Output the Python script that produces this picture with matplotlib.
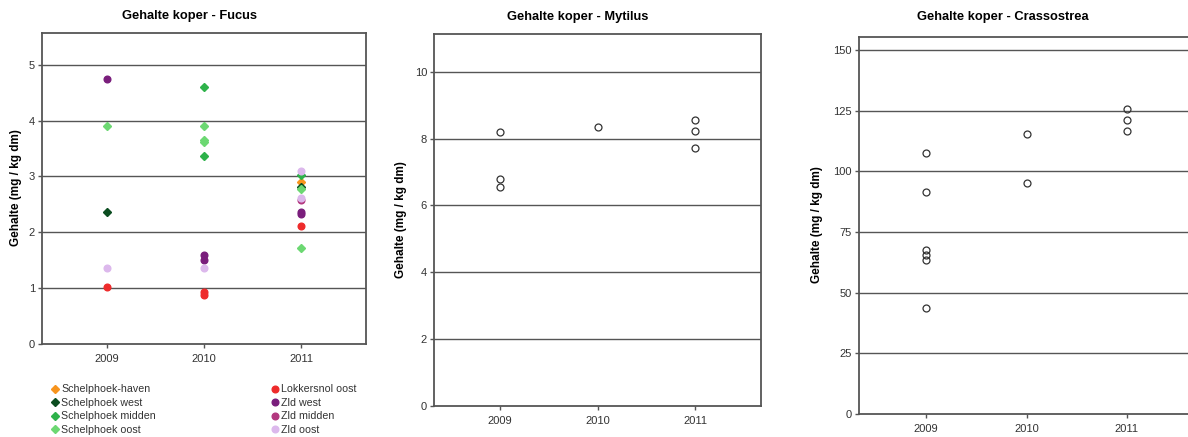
import matplotlib
matplotlib.use('Agg')
from matplotlib import pyplot as plt
from matplotlib.lines import Line2D

plt.rcParams['font.family'] = ['Liberation Sans', 'DejaVu Sans']

years = [2009, 2010, 2011]

# Fucus: per series, list of (year, value)
fucus_names = ['Schelphoek-haven', 'Schelphoek west', 'Schelphoek midden', 'Schelphoek oost',
               'Lokkersnol oost', 'Zld west', 'Zld midden', 'Zld oost']
fucus_colors = ['#f7941d', '#0b4d20', '#2eb24a', '#6cd872',
                '#ee2b2b', '#7a1e7c', '#b3387f', '#dcb8ec']
fucus_markers = ['D', 'D', 'D', 'D', 'o', 'o', 'o', 'o']
fucus_years = [
    [2011],
    [2009, 2011],
    [2010, 2010, 2011],
    [2009, 2010, 2010, 2010, 2011, 2011],
    [2009, 2010, 2010, 2011],
    [2009, 2010, 2010, 2011, 2011],
    [2011],
    [2009, 2010, 2011, 2011],
]
fucus_values = [
    [2.90],
    [2.37, 2.82],
    [4.61, 3.36, 3.02],
    [3.91, 3.91, 3.66, 3.62, 2.78, 1.72],
    [1.02, 0.94, 0.88, 2.12],
    [4.74, 1.59, 1.51, 2.36, 2.32],
    [2.58],
    [1.36, 1.37, 3.09, 2.62],
]

mytilus_years = [2009, 2009, 2009, 2010, 2011, 2011, 2011]
mytilus_values = [8.20, 6.78, 6.56, 8.34, 8.55, 8.24, 7.72]

crass_years = [2009, 2009, 2009, 2009, 2009, 2009, 2010, 2010, 2011, 2011, 2011]
crass_values = [107.5, 91.4, 67.6, 65.5, 63.6, 43.5, 115.5, 95.4, 125.6, 121.2, 116.6]

W, H = 1188, 437
fig = plt.figure(figsize=(W / 100, H / 100), dpi=100)


def style_axes(ax, ymax, yticks):
    ax.set_xlim(2008.33, 2011.67)
    ax.set_ylim(0, ymax)
    ax.set_xticks(years)
    ax.set_xticklabels([str(y) for y in years])
    ax.set_yticks(yticks)
    for yt in yticks[1:]:
        ax.axhline(yt, color='#555555', lw=1.0, zorder=1)
    for s in ax.spines.values():
        s.set_color('#555555')
        s.set_linewidth(1.3)
    ax.tick_params(axis='both', labelsize=8, colors='#555555', labelcolor='#333333',
                   length=3, width=1)
    ax.tick_params(axis='x', pad=4)
    ax.tick_params(axis='y', pad=2)


def add_axes(l, t, r, b):
    return fig.add_axes([l / W, 1 - b / H, (r - l) / W, (b - t) / H])


# Fucus
ax1 = add_axes(42, 33, 366, 344)
style_axes(ax1, 5.57, [0, 1, 2, 3, 4, 5])
handles = []
for name, c, m, xs, ys in zip(fucus_names, fucus_colors, fucus_markers, fucus_years, fucus_values):
    ms = 4.3 if m == 'D' else 4.8
    ax1.plot(xs, ys, ls='none', marker=m, ms=ms, color=c, mec=c, zorder=3)
    handles.append(Line2D([], [], ls='none', marker=m, ms=ms, color=c, mec=c, label=name))
fig.text(190 / W, 1 - 16 / H, 'Gehalte koper - Fucus', ha='center', va='center',
         fontsize=9.3, fontweight='bold')
fig.text(16 / W, 1 - 188 / H, 'Gehalte (mg / kg dm)', ha='center', va='center',
         rotation=90, fontsize=8.5, fontweight='bold')

leg_kw = dict(loc='upper left', frameon=False, fontsize=7.7, handletextpad=0.1,
              labelspacing=0.33, handlelength=1.0, borderpad=0, labelcolor='#333333')
fig.legend(handles=handles[:4], bbox_to_anchor=(44 / W, 1 - 379 / H), **leg_kw)
fig.legend(handles=handles[4:], bbox_to_anchor=(264 / W, 1 - 379 / H), **leg_kw)

# Mytilus
ax2 = add_axes(434, 34, 761, 406)
style_axes(ax2, 11.13, [0, 2, 4, 6, 8, 10])
ax2.plot(mytilus_years, mytilus_values, ls='none', marker='o', ms=5, mfc='none',
         mec='#333333', mew=0.9, zorder=3)
fig.text(578 / W, 1 - 17 / H, 'Gehalte koper - Mytilus', ha='center', va='center',
         fontsize=9.3, fontweight='bold')
fig.text(401 / W, 1 - 220 / H, 'Gehalte (mg / kg dm)', ha='center', va='center',
         rotation=90, fontsize=8.5, fontweight='bold')

# Crassostrea
ax3 = add_axes(859, 37, 1194, 414)
style_axes(ax3, 155.4, [0, 25, 50, 75, 100, 125, 150])
ax3.plot(crass_years, crass_values, ls='none', marker='o', ms=5, mfc='none',
         mec='#333333', mew=0.9, zorder=3)
fig.text(1003 / W, 1 - 17 / H, 'Gehalte koper - Crassostrea', ha='center', va='center',
         fontsize=9.3, fontweight='bold')
fig.text(817 / W, 1 - 225 / H, 'Gehalte (mg / kg dm)', ha='center', va='center',
         rotation=90, fontsize=8.5, fontweight='bold')

fig.savefig('out.png', dpi=100)
